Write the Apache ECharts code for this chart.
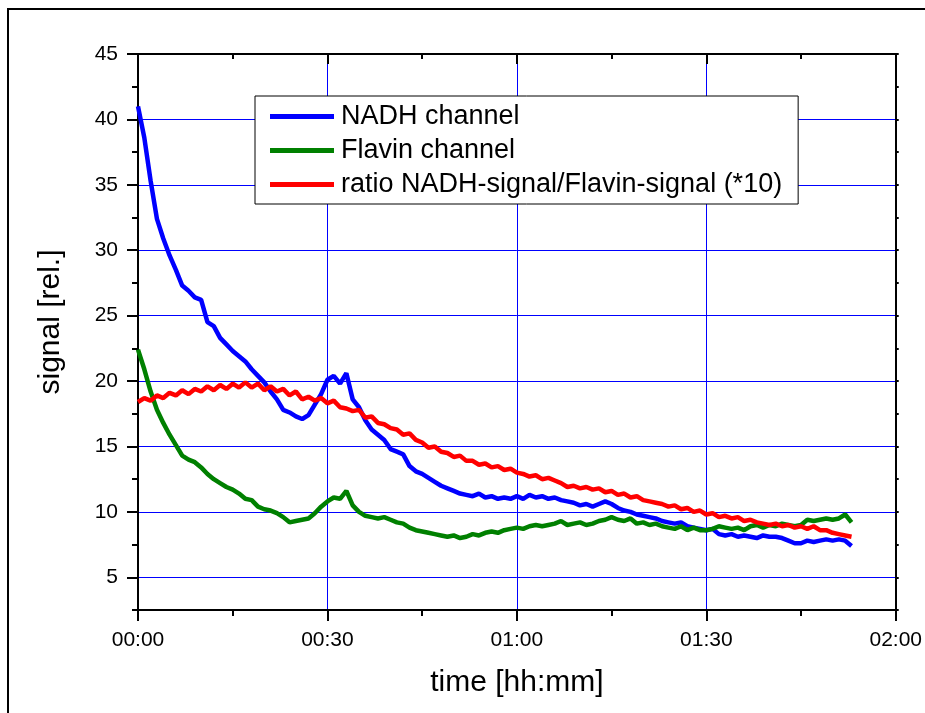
<!DOCTYPE html>
<html>
<head>
<meta charset="utf-8">
<script src="https://cdn.jsdelivr.net/npm/echarts@6.0.0/dist/echarts.min.js"></script>
<style>
  html, body { margin: 0; padding: 0; background: #fff; }
  #main { width: 925px; height: 713px; }
</style>
</head>
<body>
<div id="main"></div>
<script>
// sampled once per minute, starting at 00:00
var nadh = [
  41.0, 38.6, 35.3, 32.4, 30.9, 29.6, 28.5, 27.3, 26.9, 26.4,
  26.2, 24.5, 24.2, 23.3, 22.8, 22.3, 21.9, 21.5, 20.9, 20.4,
  19.9, 19.2, 18.6, 17.8, 17.6, 17.3, 17.1, 17.4, 18.2, 19.0,
  20.1, 20.4, 19.8, 20.6, 18.6, 18.0, 17.0, 16.3, 15.9, 15.5,
  14.8, 14.6, 14.4, 13.5, 13.1, 12.9, 12.6, 12.3, 12.0, 11.8,
  11.6, 11.4, 11.3, 11.2, 11.4, 11.1, 11.2, 11.0, 11.1, 11.0,
  11.2, 11.0, 11.3, 11.1, 11.2, 11.0, 11.1, 10.9, 10.8, 10.7,
  10.5, 10.6, 10.4, 10.6, 10.8, 10.6, 10.3, 10.1, 10.0, 9.8,
  9.7, 9.6, 9.5, 9.3, 9.2, 9.1, 9.2, 8.9, 8.8, 8.7,
  8.6, 8.7, 8.3, 8.2, 8.3, 8.1, 8.2, 8.1, 8.0, 8.2,
  8.1, 8.1, 8.0, 7.8, 7.6, 7.6, 7.8, 7.7, 7.8, 7.9,
  7.8, 7.9, 7.8, 7.4
];
var flavin = [
  22.4, 20.9, 19.2, 17.8, 16.8, 15.9, 15.1, 14.3, 14.0, 13.8,
  13.4, 12.9, 12.5, 12.2, 11.9, 11.7, 11.4, 11.0, 10.9, 10.4,
  10.2, 10.1, 9.9, 9.6, 9.2, 9.3, 9.4, 9.5, 9.9, 10.4,
  10.8, 11.1, 11.0, 11.6, 10.5, 10.0, 9.7, 9.6, 9.5, 9.6,
  9.4, 9.2, 9.1, 8.8, 8.6, 8.5, 8.4, 8.3, 8.2, 8.1,
  8.2, 8.0, 8.1, 8.3, 8.2, 8.4, 8.5, 8.4, 8.6, 8.7,
  8.8, 8.7, 8.9, 9.0, 8.9, 9.0, 9.1, 9.3, 9.0, 9.1,
  9.2, 9.0, 9.1, 9.3, 9.4, 9.6, 9.4, 9.3, 9.5, 9.1,
  9.2, 9.0, 9.1, 8.9, 8.8, 8.7, 8.9, 8.6, 8.8, 8.6,
  8.6, 8.7, 8.9, 8.8, 8.7, 8.8, 8.6, 8.9, 9.0, 8.8,
  9.0, 8.9, 9.1, 9.0, 8.9, 9.0, 9.4, 9.3, 9.4, 9.5,
  9.4, 9.5, 9.8, 9.2
];
var ratio = [
  18.4, 18.7, 18.5, 18.9, 18.7, 19.1, 18.9, 19.3, 19.0, 19.4,
  19.2, 19.6, 19.3, 19.7, 19.4, 19.8, 19.5, 19.9, 19.5, 19.8,
  19.3, 19.6, 19.2, 19.4, 18.9, 19.2, 18.6, 18.8, 18.5, 18.7,
  18.3, 18.5, 18.0, 17.9, 17.7, 17.8, 17.2, 17.3, 16.8, 16.7,
  16.4, 16.3, 15.9, 16.0, 15.5, 15.3, 14.9, 15.0, 14.6, 14.5,
  14.2, 14.3, 13.9, 13.9, 13.6, 13.7, 13.4, 13.5, 13.2, 13.3,
  13.0, 12.9, 12.7, 12.8, 12.5, 12.6, 12.4, 12.2, 11.9, 12.0,
  11.8, 11.9, 11.7, 11.8, 11.5, 11.6, 11.3, 11.4, 11.1, 11.2,
  10.9, 10.8, 10.7, 10.6, 10.4, 10.5, 10.2, 10.3, 10.0, 10.1,
  9.8, 9.9, 9.6, 9.7, 9.5, 9.6, 9.3, 9.4, 9.2, 9.1,
  9.0, 9.1, 8.9, 9.0, 8.8, 8.9, 8.7, 8.9, 8.6, 8.6,
  8.4, 8.3, 8.2, 8.1
];
var seriesNames = ['NADH channel', 'Flavin channel', 'ratio NADH-signal/Flavin-signal (*10)'];
var yMajorTicks = [5, 10, 15, 20, 25, 30, 35, 40, 45];

var font = "'Liberation Sans', Arial, sans-serif";

function pairs(arr) {
  return arr.map(function (v, i) { return [i, v]; });
}
function hhmm(m) {
  var h = Math.floor(m / 60), mm = m % 60;
  return (h < 10 ? '0' : '') + h + ':' + (mm < 10 ? '0' : '') + mm;
}

var myChart = echarts.init(document.getElementById('main'));

var option = {
  backgroundColor: '#fff',
  animation: false,
  textStyle: { fontFamily: font, color: '#000' },
  // outer frame: only top and left edges are inside the picture
  graphic: [{
    type: 'polyline',
    shape: { points: [[8, 713], [8, 9], [925, 9]] },
    style: { fill: null, stroke: '#000', lineWidth: 2 }
  }],
  grid: { left: 138, right: 29, top: 54, bottom: 103, containLabel: false },
  legend: {
    orient: 'vertical',
    left: 255,
    top: 96,
    padding: [7, 16, 6, 15],
    itemGap: 7,
    itemWidth: 64,
    itemHeight: 5,
    icon: 'rect',
    backgroundColor: '#fff',
    borderColor: '#000',
    borderWidth: 1,
    borderRadius: 0,
    textStyle: { fontFamily: font, fontSize: 27, lineHeight: 27, color: '#000', padding: [0, 0, 0, 2] },
    data: seriesNames
  },
  xAxis: [{
    type: 'value',
    min: 0, max: 120, interval: 30,
    name: 'time [hh:mm]',
    nameLocation: 'middle',
    nameGap: 58,
    nameTextStyle: { fontFamily: font, fontSize: 30, color: '#000' },
    axisLine: { lineStyle: { color: '#000', width: 2 } },
    axisTick: { length: 11, lineStyle: { color: '#000', width: 2 } },
    minorTick: { show: true, splitNumber: 2, length: 6, lineStyle: { color: '#000', width: 2 } },
    axisLabel: { fontFamily: font, fontSize: 21, color: '#000', margin: 20, formatter: hhmm },
    splitLine: { show: true, lineStyle: { color: '#0000ff', width: 1 } }
  }, {
    type: 'value',
    position: 'top',
    min: 0, max: 120, interval: 30,
    axisLine: { lineStyle: { color: '#000', width: 2 } },
    axisTick: { inside: true, length: 10, lineStyle: { color: '#000', width: 2 } },
    minorTick: { show: true, splitNumber: 2, length: 5, lineStyle: { color: '#000', width: 2 } },
    axisLabel: { show: false },
    splitLine: { show: false }
  }],
  yAxis: [{
    type: 'value',
    min: 2.5, max: 45, interval: 2.5,
    name: 'signal [rel.]',
    nameLocation: 'middle',
    nameGap: 72,
    nameTextStyle: { fontFamily: font, fontSize: 30, color: '#000', padding: [0, 0, 0, 20] },
    axisLine: { lineStyle: { color: '#000', width: 2 } },
    axisTick: { length: 6, lineStyle: { color: '#000', width: 2 } },
    axisLabel: {
      fontFamily: font, fontSize: 21, color: '#000', margin: 20,
      formatter: function (v) { return yMajorTicks.indexOf(v) >= 0 ? String(v) : ''; }
    },
    splitLine: { show: true, lineStyle: { color: ['transparent', '#0000ff'], width: 1 } }
  }, {
    type: 'value',
    position: 'left',
    min: 2.5, max: 45,
    axisLine: { show: false },
    axisTick: { show: true, customValues: yMajorTicks, length: 11, lineStyle: { color: '#000', width: 2 } },
    axisLabel: { show: false },
    splitLine: { show: false }
  }, {
    type: 'value',
    position: 'right',
    min: 2.5, max: 45, interval: 2.5,
    axisLine: { lineStyle: { color: '#000', width: 2 } },
    axisTick: { length: 3, lineStyle: { color: '#000', width: 2 } },
    axisLabel: { show: false },
    splitLine: { show: false }
  }],
  series: [{
    name: seriesNames[0],
    type: 'line',
    symbol: 'none',
    color: '#0000ff',
    lineStyle: { width: 4.5, color: '#0000ff' },
    data: pairs(nadh)
  }, {
    name: seriesNames[1],
    type: 'line',
    symbol: 'none',
    color: '#008000',
    lineStyle: { width: 4.5, color: '#008000' },
    data: pairs(flavin)
  }, {
    name: seriesNames[2],
    type: 'line',
    symbol: 'none',
    color: '#ff0000',
    lineStyle: { width: 4.5, color: '#ff0000' },
    data: pairs(ratio)
  }]
};
myChart.setOption(option);

window.addEventListener('resize', function () {
  myChart.resize();
});
</script>
</body>
</html>
